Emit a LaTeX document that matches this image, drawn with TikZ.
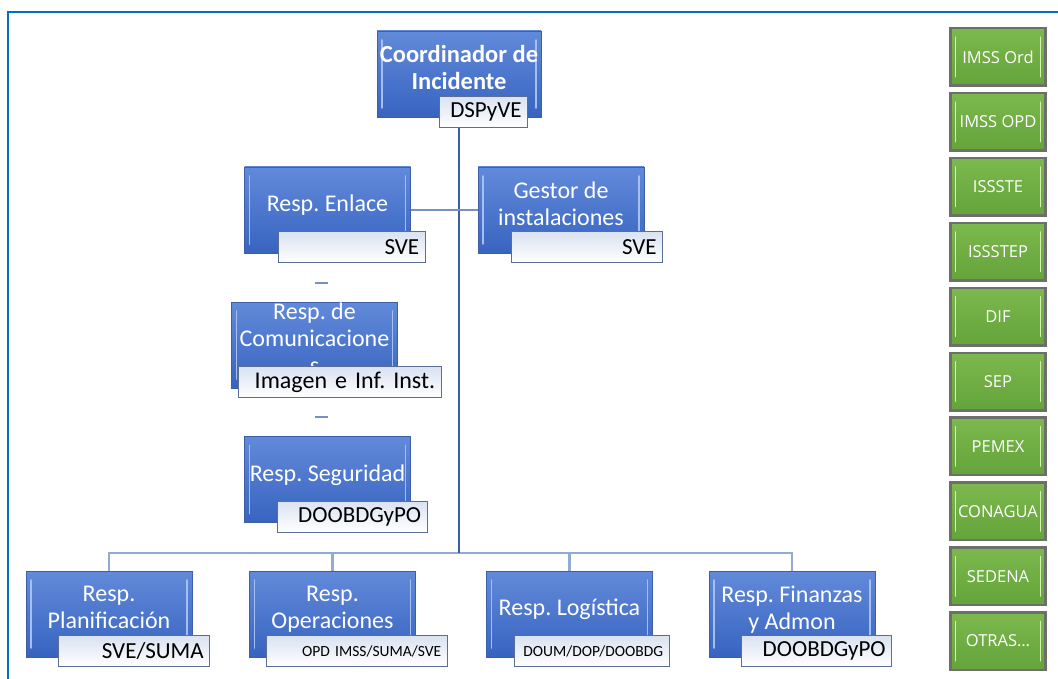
\documentclass[tikz,border=0pt]{standalone}
\usepackage{fontspec}
\setmainfont{Carlito}
\newfontfamily\grnfont{Open Sans}
\usetikzlibrary{positioning}
\definecolor{boxtop}{RGB}{98,138,218}
\definecolor{boxbot}{RGB}{56,100,192}
\definecolor{boxedge}{RGB}{62,94,168}
\definecolor{boxhl}{RGB}{165,192,238}
\definecolor{subtop}{RGB}{218,226,241}
\definecolor{subedge}{RGB}{92,110,150}
\definecolor{grntop}{RGB}{124,184,78}
\definecolor{grnbot}{RGB}{100,164,58}
\definecolor{grnedge}{RGB}{108,112,104}
\definecolor{grnhl}{RGB}{212,238,180}
\definecolor{trunkc}{RGB}{58,92,160}
\definecolor{busc}{RGB}{146,170,212}
\definecolor{linkc}{RGB}{118,144,196}
\definecolor{framec}{RGB}{0,112,192}

\begin{document}
\frenchspacing
\begin{tikzpicture}[x=1pt, y=-1pt,
      shine/.style = {path picture={
                       \draw[line width=1.6pt, line cap=round, #1]
                         ([xshift=5pt,yshift=-9pt]path picture bounding box.north west)
                         -- ([xshift=5pt,yshift=9pt]path picture bounding box.south west);
                       \draw[line width=1.6pt, line cap=round, #1]
                         ([xshift=-5pt,yshift=-9pt]path picture bounding box.north east)
                         -- ([xshift=-5pt,yshift=9pt]path picture bounding box.south east);}},
        box/.style = {rectangle, draw=boxedge, line width=0.8pt,
                      top color=boxtop, bottom color=boxbot, shine=boxhl,
                      minimum width=166pt, minimum height=86pt, inner sep=0pt,
                      text depth=13pt,
                      align=center, text=white, font=\fontsize{24}{27}\selectfont},
     subbox/.style = {rectangle, draw=subedge, line width=1.4pt,
                      top color=subtop, bottom color=white, anchor=south east,
                      minimum height=31pt, inner xsep=6pt, inner ysep=0pt,
                      align=right, text=black, font=\fontsize{23}{26}\selectfont},
        grn/.style = {rectangle, draw=grnedge, line width=2.5pt,
                      top color=grntop, bottom color=grnbot, shine=grnhl,
                      minimum width=95pt, minimum height=57.5pt, inner sep=0pt,
                      text=white, font=\grnfont\fontsize{16.5}{19}\selectfont},
      trunk/.style = {draw=trunkc, line width=2.5pt},
        bus/.style = {draw=busc, line width=2.5pt},
       link/.style = {draw=linkc, line width=2pt},
       stub/.style = {draw=linkc, line width=2pt},
      frame/.style = {draw=framec, line width=1.5pt}
                        ]
\useasboundingbox (0,0) rectangle (1058,679);
\draw[frame] (8,679) -- (8,12) -- (1058,12);

% main boxes
\node (coord)[box, minimum width=164pt, font=\bfseries\fontsize{24.5}{27}\selectfont] at (459,74) {Coordinador de\\Incidente};
\node (enl)[box] at (327.5,210) {Resp. Enlace};
\node (ges)[box] at (561,210) {Gestor de\\instalaciones};
\node (com)[box, text depth=14pt] at (314.5,345) {Resp. de\\Comunicacione\\s};
\node (seg)[box] at (327.5,479.5) {Resp. Seguridad};
\node (pla)[box] at (109,614) {Resp.\\Planificación};
\node (ope)[box] at (332.5,614) {Resp.\\Operaciones};
\node (log)[box] at (569.5,614) {Resp. Logística};
\node (fin)[box] at (792,614) {Resp. Finanzas\\y Admon};

% sub boxes
\node (dsp)[subbox, text width=76pt] at ([shift={(-13,11)}]coord.south east) {DSPyVE};
\node (enlsub)[subbox, text width=135pt] at ([shift={(15,10)}]enl.south east) {SVE};
\node (gessub)[subbox, text width=139pt] at ([shift={(19,10)}]ges.south east) {SVE};
\node (comsub)[subbox, text width=191pt, font=\fontsize{24}{26}\selectfont] at ([shift={(44,10)}]com.south east) {Imagen e Inf. Inst.};
\node (segsub)[subbox, text width=138pt] at ([shift={(17,10)}]seg.south east) {DOOBDGyPO};
\node (plasub)[subbox, text width=139pt] at ([shift={(18,10)}]pla.south east) {SVE/SUMA};
\node (opesub)[subbox, text width=169pt, font=\fontsize{15.5}{18}\selectfont] at ([shift={(32,10)}]ope.south east) {OPD IMSS/SUMA/SVE};
\node (logsub)[subbox, text width=143pt, font=\fontsize{15.5}{18}\selectfont] at ([shift={(17,10)}]log.south east) {DOUM/DOP/DOOBDG};
\node (finsub)[subbox, text width=138pt] at ([shift={(17,10)}]fin.south east) {DOOBDGyPO};

% connectors
\coordinate (bus) at (459,553);
\draw[bus] (pla.north) |- (bus) -| (fin.north);
\draw[bus] (ope.north) -- (ope.north |- bus);
\draw[bus] (log.north) -- (log.north |- bus);
\draw[trunk] (coord.south |- dsp.south) -- (bus);
\draw[link] (enl.east) -- (ges.west);
\draw[stub] (315,283) -- (328,283);
\draw[stub] (315,417) -- (328,417);

% right column
\foreach \lbl [count=\i from 0] in {IMSS Ord, IMSS OPD, ISSSTE, ISSSTEP, DIF, SEP, PEMEX, CONAGUA, SEDENA, OTRAS…}
  \node (g\i)[grn] at (998,57+64.9*\i) {\lbl};
\end{tikzpicture}
\end{document}
